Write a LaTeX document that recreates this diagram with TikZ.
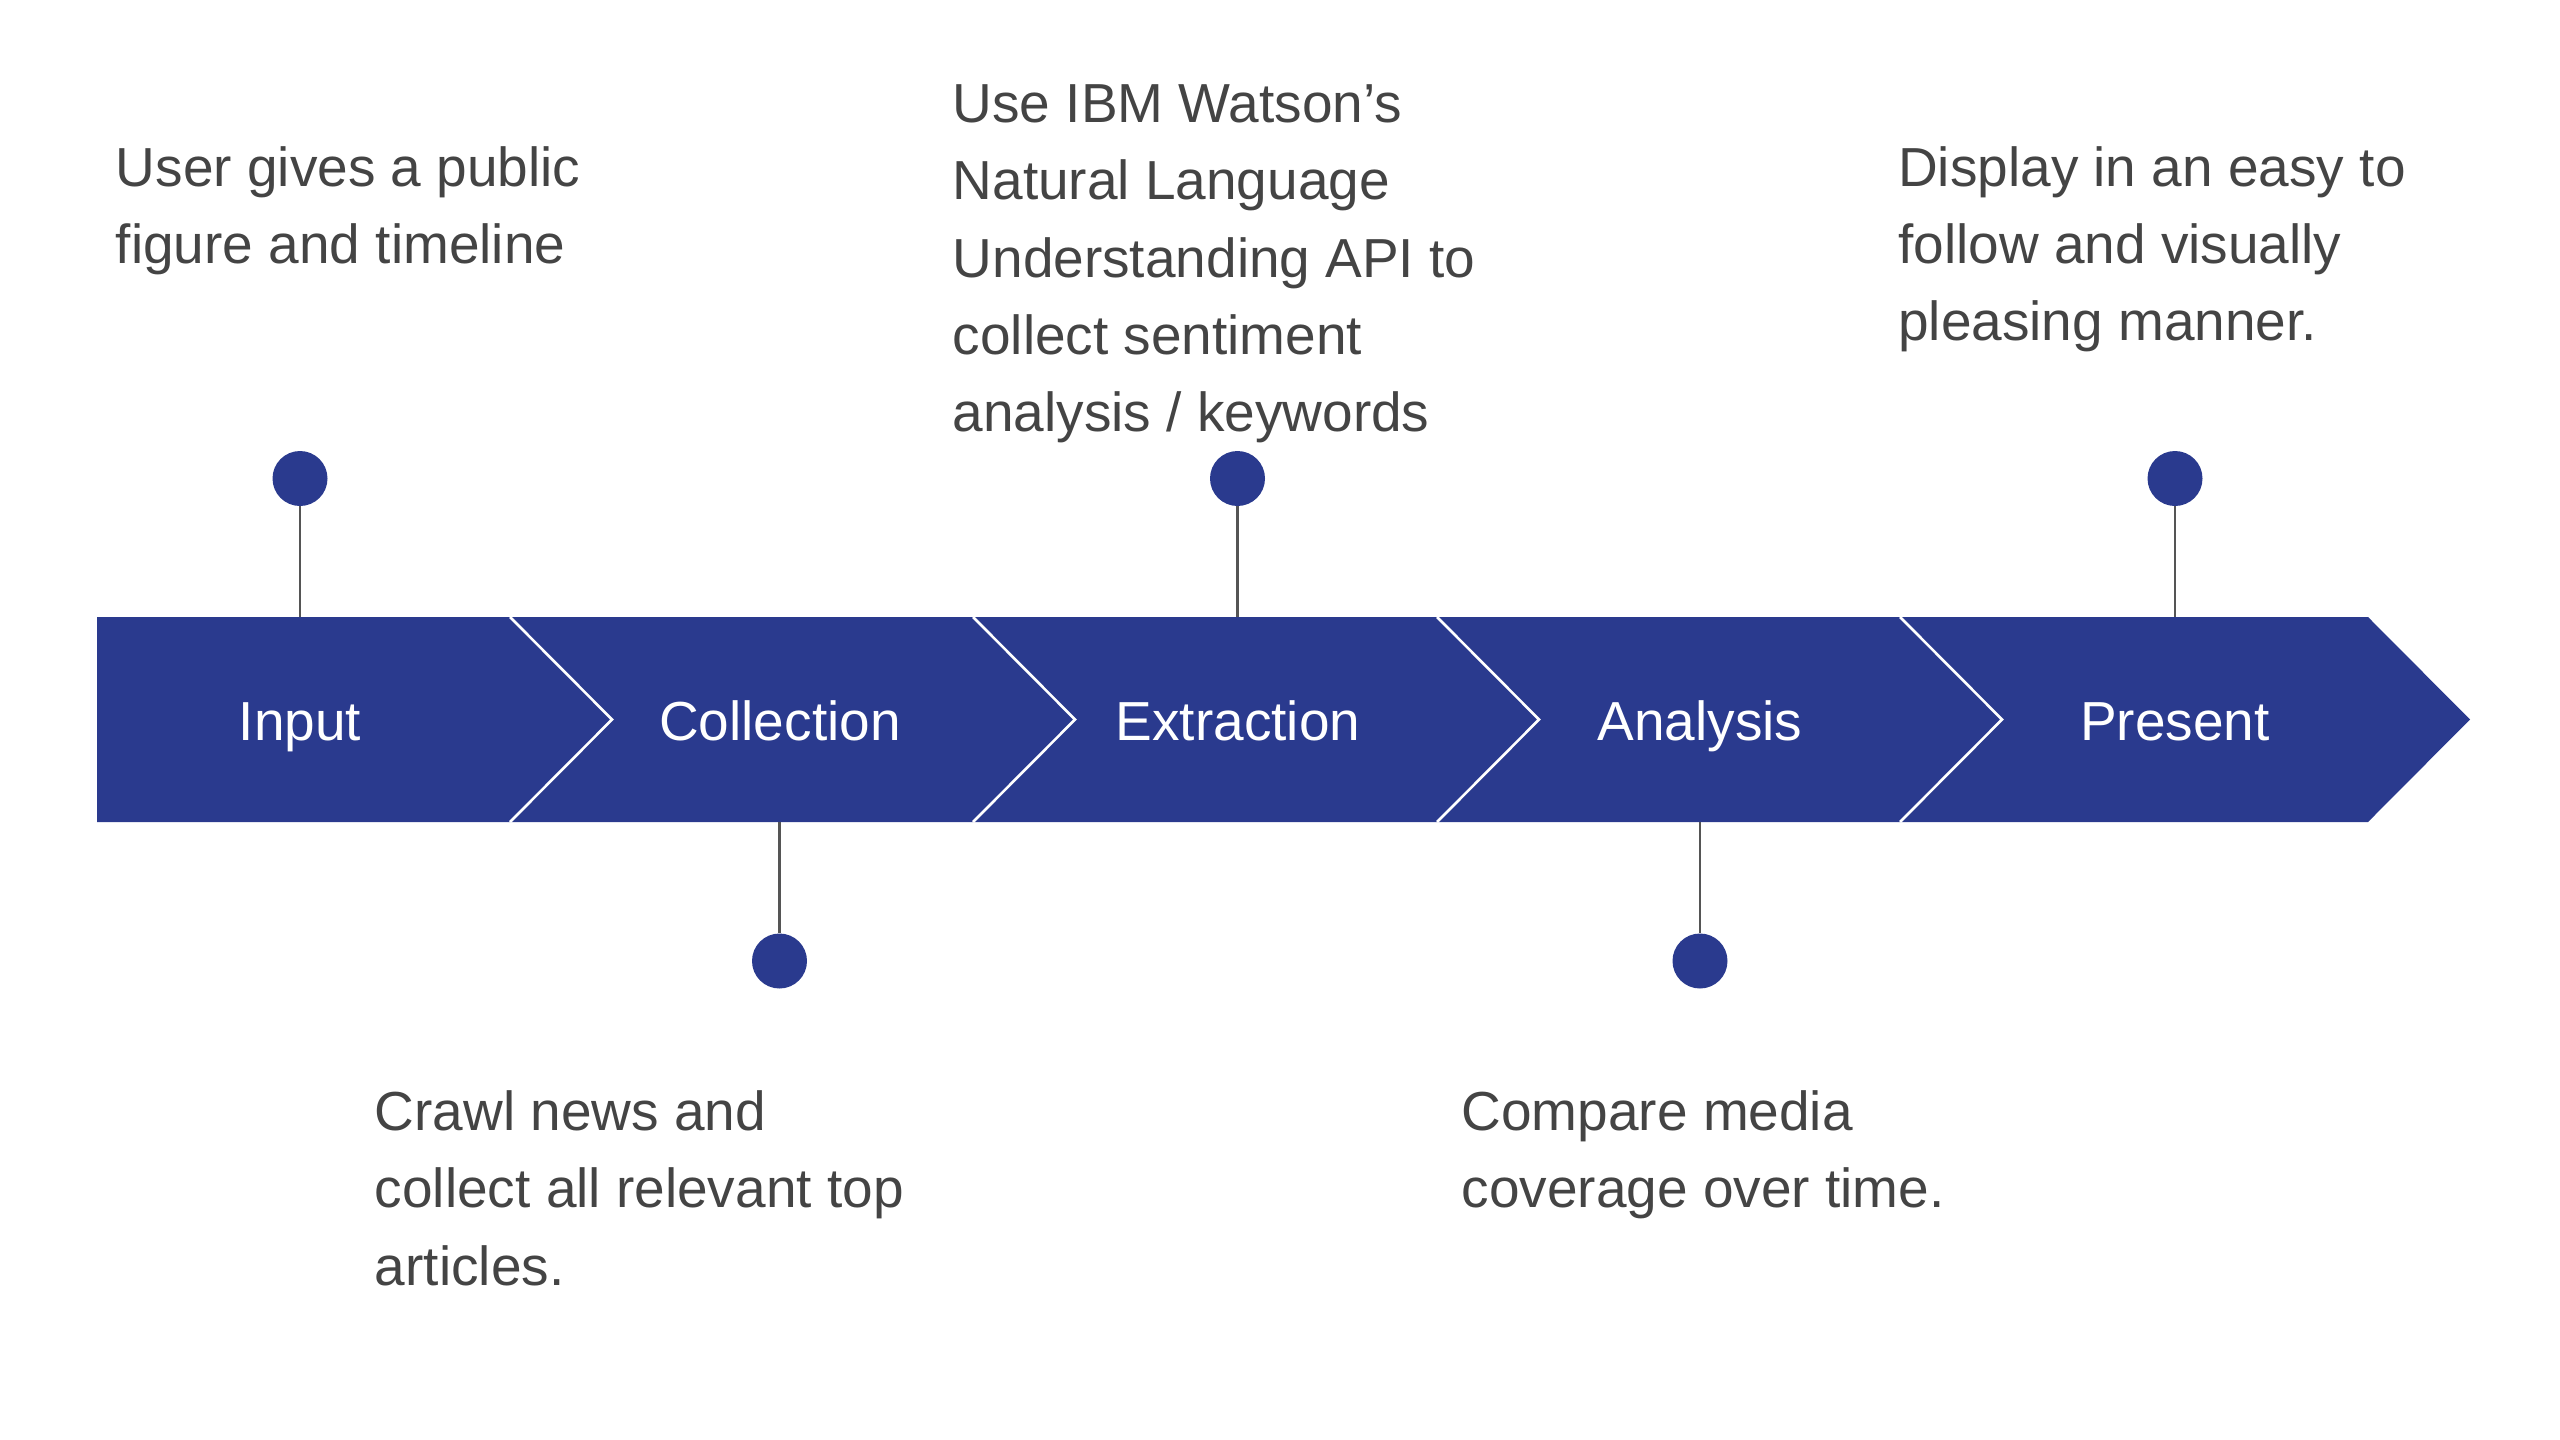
\documentclass[tikz,border=0pt]{standalone}
\usepackage{fontspec}
\setmainfont{Liberation Sans}
\definecolor{bandblue}{HTML}{2A3A8E}
\definecolor{txtgray}{HTML}{444444}
\definecolor{stemgray}{HTML}{555555}
\tikzset{
  band/.style={fill=bandblue, draw=none},
  sepline/.style={draw=white, line width=2.6pt, line join=miter},
  steplabel/.style={text=white, font=\fontsize{55}{66}\selectfont, inner sep=0pt, anchor=base},
  desc/.style={text=txtgray, font=\fontsize{55}{77.3}\selectfont, inner sep=0pt, anchor=base west, align=left},
  dot/.style={circle, fill=bandblue, inner sep=0pt, minimum size=55pt},
  stem/.style={draw=stemgray, line width=2.5pt}
}
\begin{document}
\begin{tikzpicture}[x=1pt,y=-1pt]
\useasboundingbox (0,0) rectangle (2560,1440);
% band
\fill[band] (97,617) -- (2368,617) -- (2470,719.5) -- (2368,822) -- (97,822) -- cycle;
\foreach \sx in {510,973,1437,1900}{
  \draw[sepline] (\sx,617) -- (\sx+102,719.5) -- (\sx,822);
}
% step labels
\node[steplabel] (l1) at (300,740) {Input};
\node[steplabel] (l2) at (780,740) {Collection};
\node[steplabel] (l3) at (1238,740) {Extraction};
\node[steplabel] (l4) at (1700,740) {Analysis};
\node[steplabel] (l5) at (2175,740) {Present};
% stem anchor points on the band
\coordinate (b1) at (300,617);
\coordinate (b2) at (779.5,822);
\coordinate (b3) at (1237.5,617);
\coordinate (b4) at (1700,822);
\coordinate (b5) at (2175,617);
% dots
\node[dot] (d1) at (300,478.5) {};
\node[dot] (d2) at (779.5,961) {};
\node[dot] (d3) at (1237.5,478.5) {};
\node[dot] (d4) at (1700,961) {};
\node[dot] (d5) at (2175,478.5) {};
% stems
\draw[stem] (d1) -- (b1);
\draw[stem] (b2) -- (d2);
\draw[stem] (d3) -- (b3);
\draw[stem] (b4) -- (d4);
\draw[stem] (d5) -- (b5);
% descriptions (anchored at the baseline of their last line)
\node[desc] (t1) at (115.7,263.7) {User gives a public\\figure and timeline};
\node[desc] (t2) at (374.7,1285) {Crawl news and\\collect all relevant top\\articles.};
\node[desc] (t3) at (952.5,431.7) {Use IBM Watson’s\\Natural Language\\Understanding API to\\collect sentiment\\analysis / keywords};
\node[desc] (t4) at (1461.4,1207.7) {Compare media\\coverage over time.};
\node[desc] (t5) at (1898,340.7) {Display in an easy to\\follow and visually\\pleasing manner.};
\end{tikzpicture}
\end{document}
